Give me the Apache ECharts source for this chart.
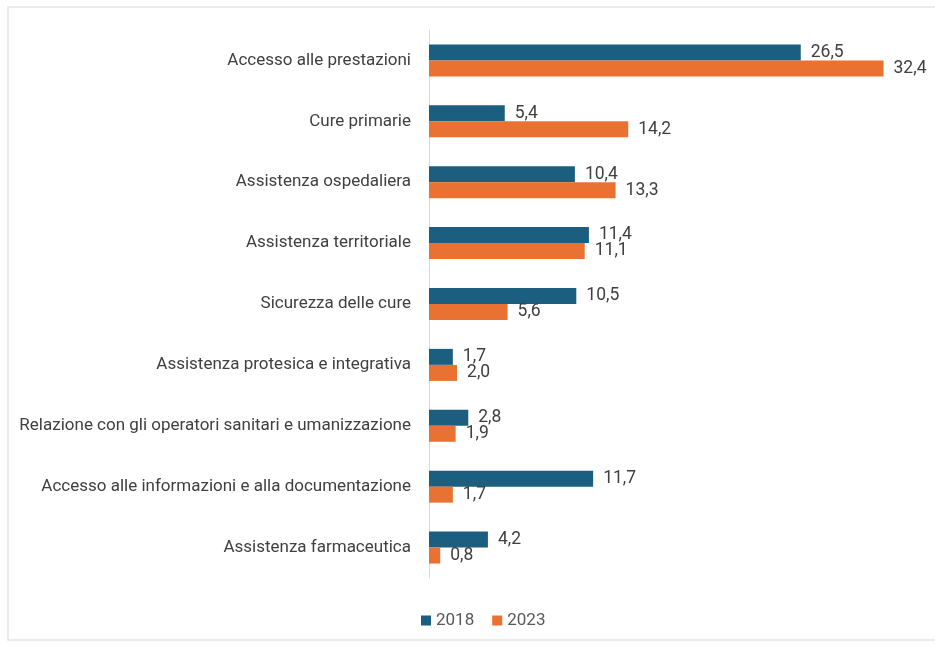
<!DOCTYPE html>
<html><head><meta charset="utf-8">
<script src="https://cdn.jsdelivr.net/npm/echarts@6/dist/echarts.min.js"></script>
<style>html,body{margin:0;padding:0;background:#fff}#c{width:935px;height:648px}</style>
</head><body><div id="c"></div>
<script>
const categories = [
  "Accesso alle prestazioni",
  "Cure primarie",
  "Assistenza ospedaliera",
  "Assistenza territoriale",
  "Sicurezza delle cure",
  "Assistenza protesica e integrativa",
  "Relazione con gli operatori sanitari e umanizzazione",
  "Accesso alle informazioni e alla documentazione",
  "Assistenza farmaceutica"
];
const values2018 = [26.5, 5.4, 10.4, 11.4, 10.5, 1.7, 2.8, 11.7, 4.2];
const values2023 = [32.4, 14.2, 13.3, 11.1, 5.6, 2.0, 1.9, 1.7, 0.8];
const seriesNames = ["2018", "2023"];

const chart = echarts.init(document.getElementById('c'));
const fmt = p => p.value.toFixed(1).replace('.', ',');
const labelStyle = {show: true, position: 'right', distance: 10, formatter: fmt,
  color: '#404040', fontSize: 17.5, fontFamily: 'Roboto'};
chart.setOption({
  animation: false,
  textStyle: {fontFamily: 'Roboto'},
  graphic: [{type: 'rect', shape: {x: 8, y: 7, width: 940, height: 633},
    style: {fill: 'none', stroke: '#e3e3e3', lineWidth: 1.5}, silent: true}],
  legend: {bottom: 14, left: 416, itemWidth: 10, itemHeight: 10, itemGap: 18,
    icon: 'rect', textStyle: {color: '#595959', fontSize: 17}, data: seriesNames},
  grid: {left: 429, right: 15, top: 30, bottom: 70, containLabel: false},
  xAxis: {type: 'value', min: 0, max: 35, show: false},
  yAxis: {type: 'category', data: categories, inverse: true,
    axisLine: {show: true, lineStyle: {color: '#d9d9d9', width: 1}},
    axisTick: {show: false},
    axisLabel: {color: '#404040', fontSize: 17, margin: 18}},
  series: [
    {name: seriesNames[0], type: 'bar', data: values2018, barWidth: 16, barGap: '0%',
      itemStyle: {color: '#1b5e80'}, label: labelStyle},
    {name: seriesNames[1], type: 'bar', data: values2023, barWidth: 16, barGap: '0%',
      itemStyle: {color: '#e97132'}, label: labelStyle}
  ]
});
</script></body></html>
